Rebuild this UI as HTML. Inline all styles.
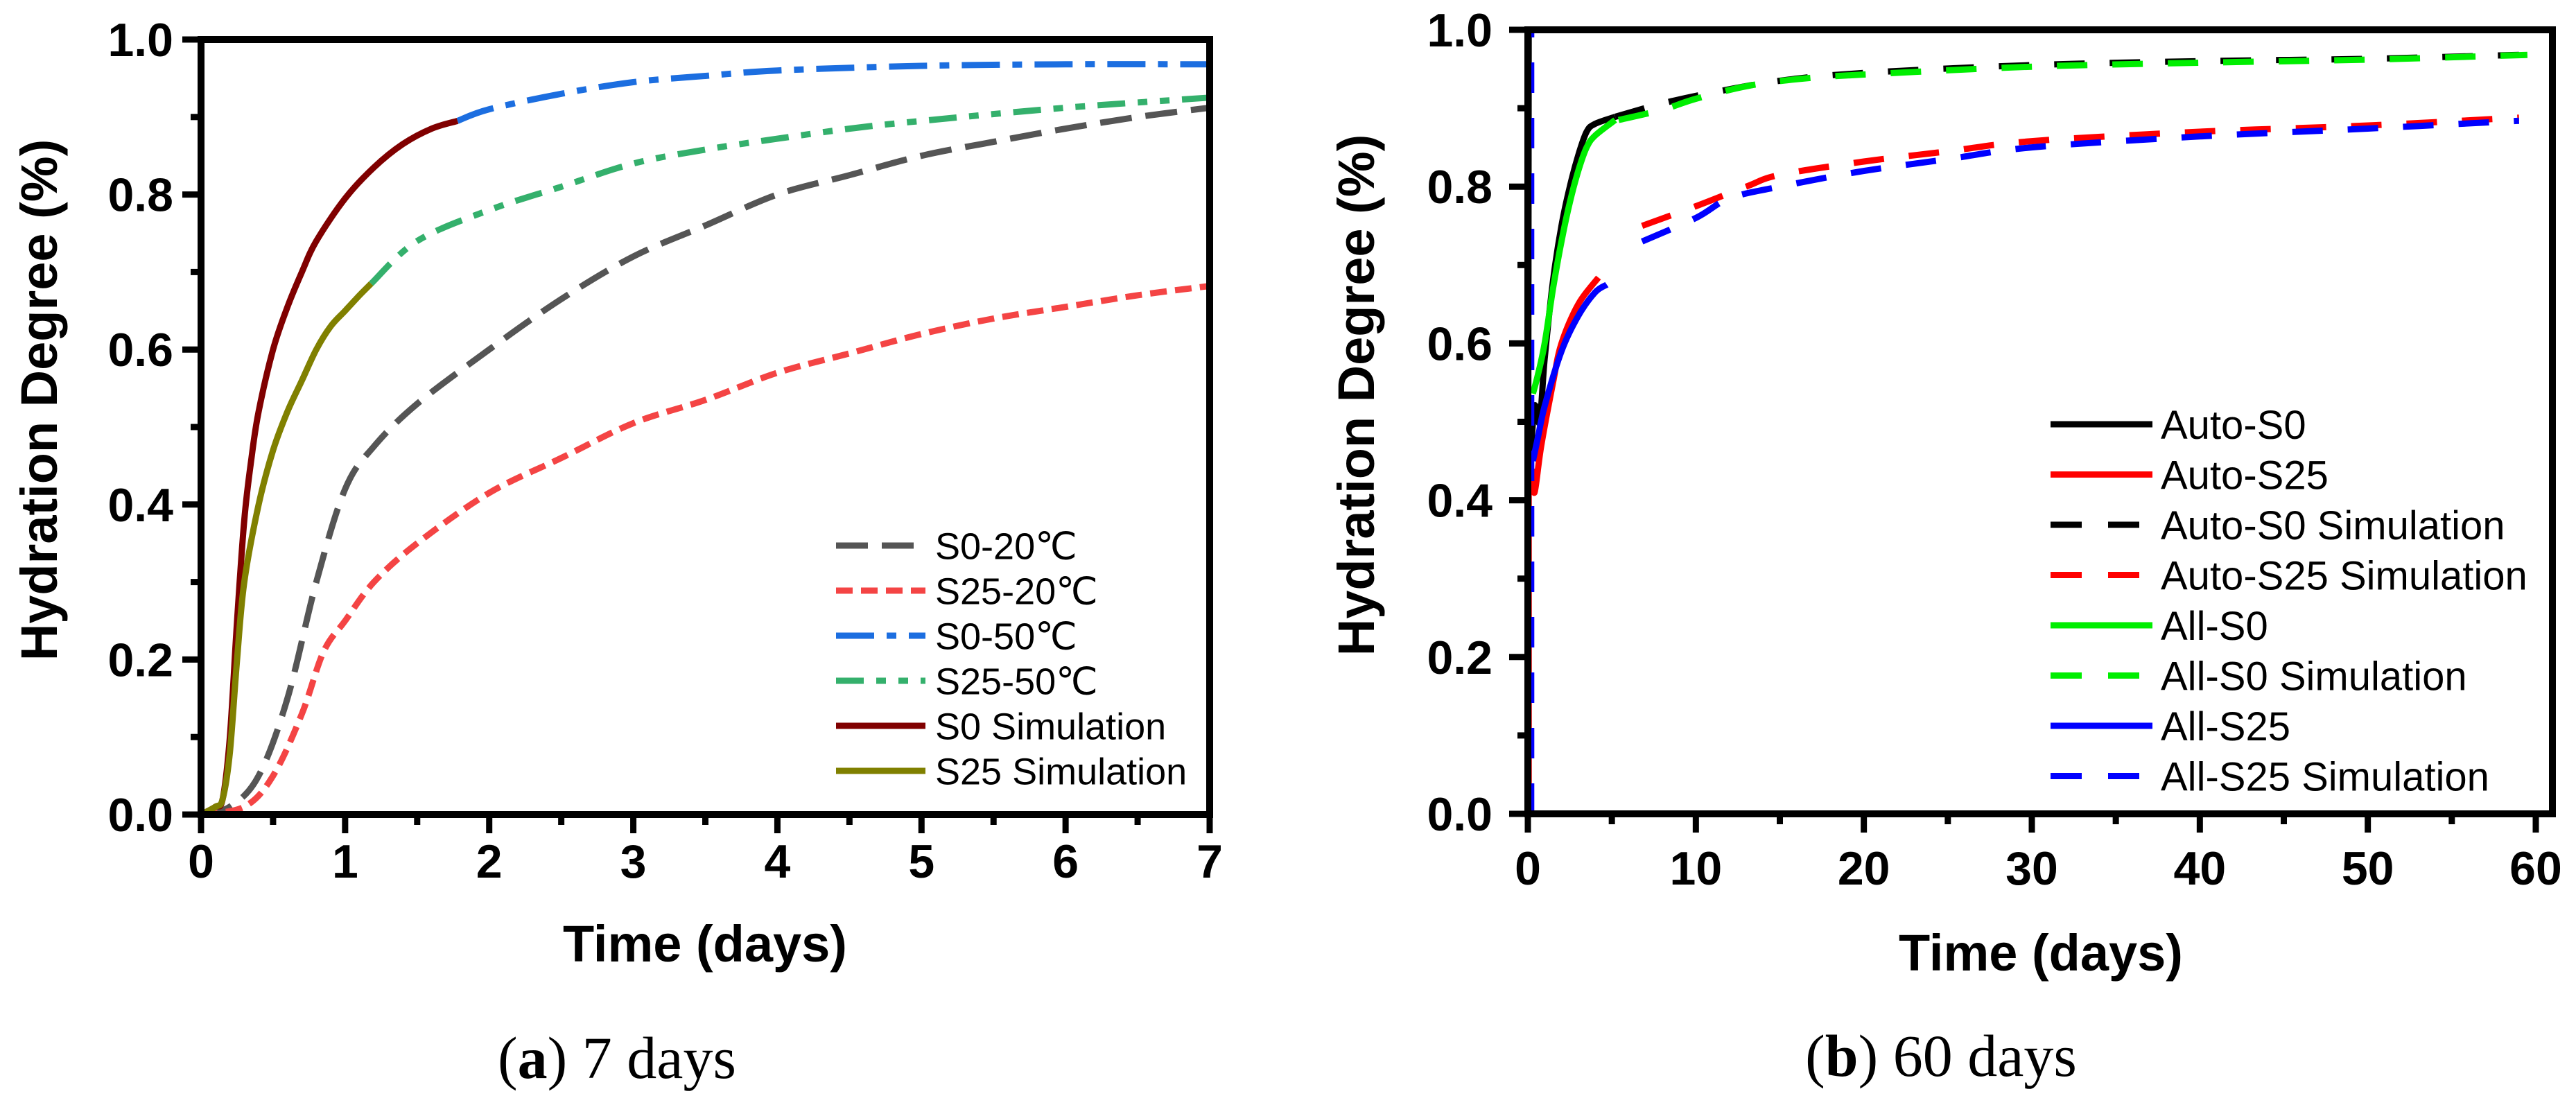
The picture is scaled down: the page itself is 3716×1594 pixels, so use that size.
<!DOCTYPE html>
<html><head><meta charset="utf-8"><style>
html,body{margin:0;padding:0;background:#fff;}
svg{display:block;}
text{font-family:"Liberation Sans",Arial,sans-serif;}
</style></head><body>
<svg id="fig" width="3716" height="1594" viewBox="0 0 3716 1594" xmlns="http://www.w3.org/2000/svg">
<g id="chartA"></g>
<g id="chartB"></g>
</svg>
<script>
// ===== Chart A (7 days) data =====
const aXTicks = [0,1,2,3,4,5,6,7];
const aYTicks = [0.0,0.2,0.4,0.6,0.8,1.0];
const aYTickLabels = ["0.0","0.2","0.4","0.6","0.8","1.0"];
const aS020 = [[0,0],[0.2,0.01],[0.4,0.05],[0.6,0.15],[0.8,0.3],[1.0,0.42],[1.2,0.475],[1.5,0.53],[2,0.6],[2.5,0.665],[3,0.72],[3.5,0.76],[4,0.8],[4.5,0.825],[5,0.85],[5.5,0.868],[6,0.885],[6.5,0.9],[7,0.912]];
const aS2520 = [[0,0],[0.3,0.01],[0.5,0.05],[0.7,0.13],[0.85,0.21],[1,0.25],[1.2,0.3],[1.5,0.35],[2,0.415],[2.5,0.46],[3,0.505],[3.5,0.535],[4,0.57],[4.5,0.595],[5,0.62],[5.5,0.64],[6,0.655],[6.5,0.67],[7,0.682]];
const aS050 = [[1.78,0.895],[2,0.91],[2.5,0.93],[3,0.945],[3.5,0.953],[4,0.96],[5,0.966],[6,0.968],[7,0.968]];
const aS2550 = [[1.18,0.685],[1.5,0.74],[2,0.78],[2.5,0.81],[3,0.84],[3.5,0.858],[4,0.872],[4.5,0.885],[5,0.895],[6,0.912],[7,0.925]];
const aS0Sim = [[0,0],[0.1,0.01],[0.15,0.02],[0.2,0.1],[0.25,0.25],[0.3,0.38],[0.35,0.46],[0.4,0.52],[0.5,0.6],[0.6,0.655],[0.7,0.7],[0.8,0.74],[1,0.795],[1.2,0.835],[1.4,0.865],[1.6,0.885],[1.78,0.895]];
const aS25Sim = [[0,0],[0.1,0.01],[0.15,0.02],[0.2,0.08],[0.25,0.2],[0.3,0.3],[0.4,0.4],[0.5,0.47],[0.6,0.52],[0.7,0.56],[0.8,0.6],[0.9,0.63],[1.0,0.65],[1.1,0.67],[1.18,0.685]];
// ===== Chart B (60 days) data =====
const bXTicks = [0,10,20,30,40,50,60];
const bYTicks = [0.0,0.2,0.4,0.6,0.8,1.0];
const bYTickLabels = ["0.0","0.2","0.4","0.6","0.8","1.0"];
const bAutoS0 = [[0,0],[0.05,1.0],null,[0.15,0.45],[0.4,0.52],[0.7,0.5],[1,0.58],[1.5,0.68],[2,0.75],[2.5,0.8],[3,0.84],[3.5,0.87],[4,0.88],[5.2,0.889]];
const bAllS0 = [[0.3,0.536],[0.6,0.56],[1,0.6],[1.5,0.67],[2,0.73],[2.5,0.78],[3,0.82],[3.5,0.85],[4,0.865],[5.2,0.885]];
const bAutoS0Sim = [[5.2,0.889],[8,0.906],[11,0.92],[15,0.935],[20,0.945],[30,0.955],[40,0.96],[50,0.963],[59,0.968]];
const bAllS0Sim = [[0.12,0],[0.12,1.0],null,[5.4,0.885],[8,0.898],[10,0.912],[13,0.928],[16,0.937],[20,0.943],[30,0.953],[40,0.958],[50,0.962],[59.5,0.968]];
const bAutoS25 = [[0.05,0],[0.05,0.45],null,[0.25,0.44],[0.4,0.41],[0.8,0.47],[1.5,0.55],[2,0.6],[3,0.65],[4.2,0.684]];
const bAutoS25Sim = [[0.08,0],[0.08,0.45],null,[6.8,0.75],[10,0.775],[13,0.8],[15,0.815],[20,0.832],[25,0.845],[30,0.858],[40,0.87],[50,0.878],[59,0.888]];
const bAllS25 = [[0.3,0.45],[0.6,0.48],[1,0.52],[2,0.59],[3,0.635],[4,0.665],[4.7,0.675]];
const bAllS25Sim = [[0.2,0],[0.2,1.0],null,[6.8,0.73],[10,0.76],[12,0.785],[15,0.8],[20,0.82],[25,0.835],[30,0.85],[40,0.864],[50,0.874],[59,0.884]];

const NS = "http://www.w3.org/2000/svg";
function mk(tag, attrs, parent){
  const e = document.createElementNS(NS, tag);
  for (const k in attrs) e.setAttribute(k, attrs[k]);
  parent.appendChild(e);
  return e;
}
function smoothSeg(pts){
  if (pts.length < 3) return pts.map((p,i)=>(i?"L":"M")+p[0].toFixed(1)+" "+p[1].toFixed(1)).join(" ");
  let d = "M" + pts[0][0].toFixed(1) + " " + pts[0][1].toFixed(1);
  for (let i = 0; i < pts.length - 1; i++){
    const p0 = pts[Math.max(0,i-1)], p1 = pts[i], p2 = pts[i+1], p3 = pts[Math.min(pts.length-1,i+2)];
    const c1x = p1[0] + (p2[0]-p0[0])/6, c1y = p1[1] + (p2[1]-p0[1])/6;
    const c2x = p2[0] - (p3[0]-p1[0])/6, c2y = p2[1] - (p3[1]-p1[1])/6;
    d += " C" + c1x.toFixed(1)+" "+c1y.toFixed(1)+" "+c2x.toFixed(1)+" "+c2y.toFixed(1)+" "+p2[0].toFixed(1)+" "+p2[1].toFixed(1);
  }
  return d;
}
function pathFrom(data, sx, sy){
  const segs = []; let cur = [];
  data.forEach(p => {
    if (p === null){ if (cur.length) segs.push(cur); cur = []; return; }
    cur.push([sx(p[0]), sy(p[1])]);
  });
  if (cur.length) segs.push(cur);
  return segs.map(smoothSeg).join(" ");
}

function drawChart(g, cfg){
  const sx = v => cfg.x0 + (v - cfg.xmin) / (cfg.xmax - cfg.xmin) * (cfg.x1 - cfg.x0);
  const sy = v => cfg.y0 - v * (cfg.y0 - cfg.y1);
  cfg.series.forEach(s => {
    const p = mk("path", {d: pathFrom(s.data, sx, sy), fill: "none", stroke: s.color, "stroke-width": 9, "stroke-dasharray": s.dash || "none", "stroke-linejoin": "round"}, g);
    
    
  });
  const fr = mk("rect", {x: cfg.x0, y: cfg.y1, width: cfg.fx - cfg.x0, height: cfg.y0 - cfg.y1, fill: "none", stroke: "#000", "stroke-width": 10}, g);
  
  
  cfg.xTicks.forEach((t, i) => {
    const x = sx(t);
    const tk = mk("line", {x1: x, x2: x, y1: cfg.y0, y2: cfg.y0 + 27, stroke: "#000", "stroke-width": 9}, g);
    
    
    if (i < cfg.xTicks.length - 1){
      const xm = sx((t + cfg.xTicks[i+1]) / 2);
      const mt = mk("line", {x1: xm, x2: xm, y1: cfg.y0, y2: cfg.y0 + 15, stroke: "#000", "stroke-width": 9}, g);
      
      
    }
    const lb = mk("text", {x: x, y: cfg.xLabY, "text-anchor": "middle", "font-size": 68, "font-weight": "bold"}, g);
    lb.textContent = String(t);
    
    
  });
  cfg.yTicks.forEach((t, i) => {
    const y = sy(t);
    const tk = mk("line", {x1: cfg.x0 - 27, x2: cfg.x0, y1: y, y2: y, stroke: "#000", "stroke-width": 9}, g);
    
    
    if (i < cfg.yTicks.length - 1){
      const ym = sy((t + cfg.yTicks[i+1]) / 2);
      const mt = mk("line", {x1: cfg.x0 - 15, x2: cfg.x0, y1: ym, y2: ym, stroke: "#000", "stroke-width": 9}, g);
      
      
    }
    const lb = mk("text", {x: cfg.yLabX, y: y + 24, "text-anchor": "end", "font-size": 68, "font-weight": "bold"}, g);
    lb.textContent = cfg.yLabels[i];
    
    
  });
  const yt = mk("text", {x: 0, y: 0, transform: "translate(" + cfg.yTitleX + "," + cfg.yTitleY + ") rotate(-90)", "text-anchor": "middle", "font-size": 74, "font-weight": "bold"}, g);
  yt.textContent = "Hydration Degree (%)";
  
  
  const xt = mk("text", {x: cfg.xTitleX, y: cfg.xTitleY, "text-anchor": "middle", "font-size": 74, "font-weight": "bold"}, g);
  xt.textContent = "Time (days)";
  
  
  const cp = mk("text", {x: cfg.capX, y: cfg.capY, "text-anchor": "middle", "font-size": 86, style: 'font-family:"Liberation Serif",serif'}, g);
  const b = mk("tspan", {}, cp); b.textContent = "(";
  const bb = mk("tspan", {"font-weight": "bold"}, cp); bb.textContent = cfg.capLetter;
  const rest = mk("tspan", {}, cp); rest.textContent = ") " + cfg.capText;
  
  
  cfg.series.filter(s => s.legend).forEach((s, i) => {
    const y = cfg.legY + i * cfg.legDy;
    const ln = mk("line", {x1: cfg.legX0, x2: cfg.legX1, y1: y, y2: y, stroke: s.color, "stroke-width": 9, "stroke-dasharray": s.legDash || s.dash || "none"}, g);
    
    
    const tx = mk("text", {x: cfg.legTx, y: y + cfg.legFs * 0.36, "font-size": cfg.legFs}, g);
    tx.textContent = s.label;
    
    
  });
}

drawChart(document.getElementById("chartA"), {
  x0: 290, x1: 1745, fx: 1745, xmin: 0, xmax: 7, y0: 1175, y1: 57,
  xTicks: aXTicks, yTicks: aYTicks, yLabels: aYTickLabels,
  xLabY: 1266, yLabX: 250,
  yTitleX: 82, yTitleY: 577, xTitleX: 1017, xTitleY: 1387,
  capX: 890, capY: 1555, capLetter: "a", capText: "7 days",
  legX0: 1206, legX1: 1335, legTx: 1349, legY: 787, legDy: 65, legFs: 54,
  series: [
    {name: "s0-20c", label: "S0-20\u2103", data: aS020, color: "#555555", dash: "46 20", legend: true},
    {name: "s25-20c", label: "S25-20\u2103", data: aS2520, color: "#f44444", dash: "24 12", legend: true},
    {name: "s0-50c", label: "S0-50\u2103", data: aS050, color: "#1c6ee0", dash: "55 18 14 18", legend: true},
    {name: "s25-50c", label: "S25-50\u2103", data: aS2550, color: "#34b06c", dash: "40 18 14 18 14 18", legend: true},
    {name: "s0-simulation", label: "S0 Simulation", data: aS0Sim, color: "#800000", legend: true},
    {name: "s25-simulation", label: "S25 Simulation", data: aS25Sim, color: "#808000", legend: true}
  ]
});

drawChart(document.getElementById("chartB"), {
  x0: 2204, x1: 3658, fx: 3682, xmin: 0, xmax: 60, y0: 1174, y1: 43,
  xTicks: bXTicks, yTicks: bYTicks, yLabels: bYTickLabels,
  xLabY: 1276, yLabX: 2153,
  yTitleX: 1982, yTitleY: 570, xTitleX: 2944, xTitleY: 1400,
  capX: 2800, capY: 1552, capLetter: "b", capText: "60 days",
  legX0: 2958, legX1: 3105, legTx: 3117, legY: 612, legDy: 72.5, legFs: 58,
  series: [
    {name: "auto-s0", label: "Auto-S0", data: bAutoS0, color: "#000000", legend: true},
    {name: "auto-s25", label: "Auto-S25", data: bAutoS25, color: "#ff0000", legend: true},
    {name: "auto-s0-simulation", label: "Auto-S0 Simulation", data: bAutoS0Sim, color: "#000000", dash: "44 36", legDash: "45 38", legend: true},
    {name: "auto-s25-simulation", label: "Auto-S25 Simulation", data: bAutoS25Sim, color: "#ff0000", dash: "44 36", legDash: "45 38", legend: true},
    {name: "all-s0", label: "All-S0", data: bAllS0, color: "#00ee00", legend: true},
    {name: "all-s0-simulation", label: "All-S0 Simulation", data: bAllS0Sim, color: "#00ee00", dash: "44 36", legDash: "45 38", legend: true},
    {name: "all-s25", label: "All-S25", data: bAllS25, color: "#0000ff", legend: true},
    {name: "all-s25-simulation", label: "All-S25 Simulation", data: bAllS25Sim, color: "#0000ff", dash: "44 36", legDash: "45 38", legend: true}
  ]
});
</script>
</body></html>
